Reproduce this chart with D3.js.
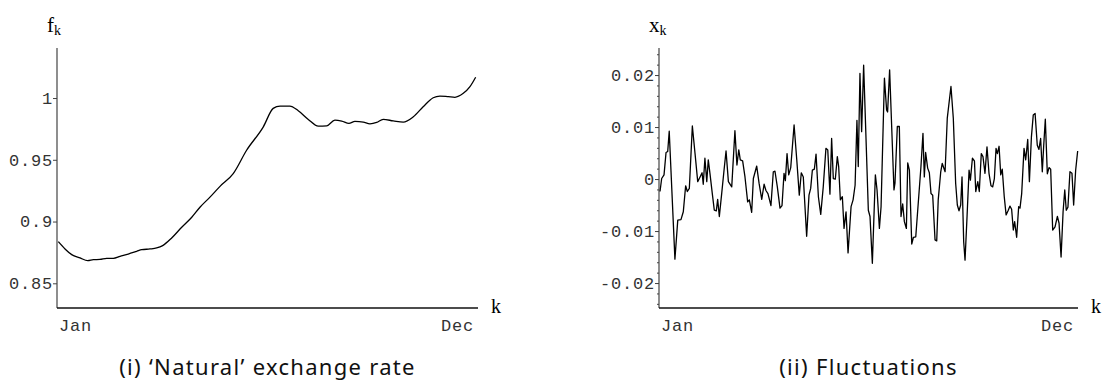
<!DOCTYPE html>
<html>
<head>
<meta charset="utf-8">
<script src="https://cdn.jsdelivr.net/npm/d3@7"></script>
<style>
  html, body { margin: 0; padding: 0; background: #fff; }
  svg { display: block; }
</style>
</head>
<body>
<div id="chart"></div>
<script>
// 'Natural' exchange rate (smooth trend), day index and value
const rateDays = [0.2, 4.2, 8.2, 13.2, 17.8, 21.1, 25.1, 29.1, 33.1, 37.1, 42.0, 47.1, 50.1, 55.0, 59.0, 62.6,
  68.0, 74.0, 80.0, 84.9, 90.9, 96.9, 104.8, 112.8, 122.8, 128.7, 132.8, 138.7, 143.7, 149.7, 155.7, 160.7,
  165.6, 169.7, 174.0, 177.6, 182.6, 186.6, 190.6, 194.5, 200.5, 206.5, 212.5, 218.4, 224.4, 228.4, 233.4,
  237.4, 242.4, 246.4, 249.8]
const rateValues = [0.8837, 0.8778, 0.8732, 0.8705, 0.8683, 0.8691, 0.8693, 0.8702, 0.8702, 0.8718, 0.8737,
  0.8759, 0.8772, 0.8778, 0.8786, 0.8805, 0.8867, 0.8954, 0.9035, 0.9116, 0.9198, 0.9285, 0.9388, 0.9577,
  0.9767, 0.9916, 0.9935, 0.9935, 0.9897, 0.9827, 0.9772, 0.9775, 0.9821, 0.9813, 0.9794, 0.9811, 0.9805,
  0.9791, 0.9802, 0.9827, 0.9815, 0.9805, 0.9848, 0.9929, 1.0002, 1.0016, 1.0011, 1.0006, 1.0038, 1.0092,
  1.0168]

// fluctuations around the trend
const flucDays = [0.6, 1.6, 3.0, 4.2, 5.2, 6.1, 9.5, 11.2, 13.1, 14.5, 15.9, 16.9, 18.1, 19.9, 21.5, 23.1,
  24.5, 25.7, 26.4, 27.4, 28.5, 29.4, 30.4, 31.8, 33.0, 34.2, 35.0, 36.0, 37.4, 38.8, 40.0, 41.4, 43.4, 45.3,
  46.5, 47.6, 48.5, 49.9, 51.3, 52.9, 53.9, 55.3, 56.3, 58.3, 59.7, 61.3, 62.7, 63.8, 65.0, 66.8, 68.2, 69.2,
  70.6, 72.2, 73.4, 74.6, 75.4, 76.4, 77.4, 78.6, 80.6, 82.2, 83.7, 84.9, 86.1, 88.1, 89.5, 90.5, 91.5, 92.7,
  93.7, 95.1, 96.5, 98.0, 99.6, 100.7, 102.0, 103.0, 104.0, 105.2, 106.4, 107.2, 108.2, 109.4, 110.4, 111.6,
  112.8, 114.6, 115.8, 117.0, 118.1, 118.9, 119.9, 120.9, 122.1, 124.9, 125.9, 127.3, 129.1, 130.1, 131.5,
  132.5, 134.5, 135.8, 136.4, 137.6, 140.2, 140.8, 142.2, 143.4, 144.4, 145.4, 146.4, 147.6, 148.4, 149.4,
  150.8, 151.8, 153.2, 156.3, 157.5, 158.3, 159.1, 160.3, 161.3, 162.3, 163.3, 164.7, 165.7, 166.6, 168.1,
  169.0, 170.7, 172.0, 174.2, 175.6, 177.0, 178.0, 179.0, 180.0, 180.8, 181.8, 182.6, 183.8, 185.0, 185.8,
  187.0, 188.2, 189.0, 190.2, 191.1, 192.3, 193.3, 194.5, 195.7, 196.9, 198.1, 199.1, 200.1, 201.1, 201.9,
  202.9, 203.9, 204.8, 206.0, 207.1, 208.4, 209.4, 210.4, 211.4, 212.2, 213.4, 214.6, 215.4, 216.4, 217.8,
  218.8, 220.0, 221.0, 222.2, 223.3, 224.4, 225.7, 226.7, 227.7, 228.7, 229.5, 230.5, 231.7, 232.7, 233.7,
  234.9, 236.3, 237.7, 238.7, 239.9, 241.1, 242.1, 243.0, 244.0, 245.2, 246.4, 247.4, 248.6, 249.8]
const flucValues = [-0.0024, 0.0001, 0.0008, 0.0051, 0.0053, 0.0092, -0.0154, -0.0079, -0.0078, -0.0063,
  -0.0013, -0.0024, -0.0018, 0.0102, 0.0049, -0.0005, 0.0004, 0.0012, -0.001, 0.004, -0.0005, 0.0037, 0.0011,
  -0.0028, -0.006, -0.0061, -0.0039, -0.0072, -0.0028, 0.0017, 0.0054, -0.0005, -0.0015, 0.0093, 0.0027,
  0.0056, 0.0037, 0.0035, 0.0004, -0.0044, -0.004, -0.0064, 0.0001, 0.0025, -0.0008, -0.0039, -0.001,
  -0.0022, -0.0028, -0.0051, 0.0014, 0.0015, -0.0015, -0.0056, -0.0051, 0.0011, -0.0003, 0.0049, 0.0008,
  0.0022, 0.0104, 0.0037, -0.0031, 0.0012, 0.0004, -0.011, -0.0031, -0.0018, 0.0017, 0.0019, 0.0048, -0.0034,
  -0.0068, -0.0015, 0.0059, 0.0056, -0.0029, 0.0078, 0.0001, 0.0, 0.0043, 0.0024, -0.004, -0.0034, -0.0095,
  -0.0063, -0.0142, -0.0053, -0.004, -0.0012, 0.0113, 0.0024, 0.0203, 0.0091, 0.0219, -0.006, -0.0072,
  -0.0162, 0.0008, -0.0021, -0.0095, -0.0053, 0.0194, 0.0133, 0.0129, 0.021, -0.0021, -0.0008, 0.0101,
  0.0101, -0.0072, -0.0048, -0.0082, -0.0095, 0.0031, 0.0017, -0.0125, -0.0112, -0.0111, 0.0024, 0.0088,
  0.0004, 0.0051, 0.0021, 0.0012, -0.0028, -0.0031, -0.0117, -0.0119, -0.004, 0.0014, 0.003, 0.0014, 0.0117,
  0.0178, 0.0117, -0.0008, -0.005, -0.0061, -0.005, 0.0004, -0.0121, -0.0156, -0.0072, 0.0017, -0.0002,
  0.004, 0.0035, -0.0024, -0.0005, -0.0024, 0.0049, 0.0043, 0.0011, 0.0062, 0.0011, -0.0013, -0.0015,
  0.0001, 0.0059, 0.0049, 0.0063, 0.0008, 0.0019, -0.0034, -0.0069, -0.006, -0.0052, -0.0058, -0.0098,
  -0.0082, -0.0112, -0.0053, -0.0056, -0.0028, 0.0059, 0.0037, 0.0076, -0.0005, 0.0081, 0.0123, 0.0126,
  0.0065, 0.0057, 0.0078, 0.0014, 0.0062, 0.0115, 0.001, 0.0022, 0.0019, -0.0098, -0.0092, -0.0072, -0.0085,
  -0.015, -0.0063, -0.0021, -0.006, -0.0054, 0.0014, 0.0011, -0.005, 0.0017, 0.0054]

const monthLabels = ['Jan', 'Dec']
const rateTicks = [0.85, 0.9, 0.95, 1]
const rateTickLabels = ['0.85', '0.9', '0.95', '1']
const flucTicks = [-0.02, -0.01, 0, 0.01, 0.02]
const flucTickLabels = ['-0.02', '-0.01', '0', '0.01', '0.02']
const flucMinorTicks = d3.range(-24, 25, 2).map(v => v / 1000)

;(() => {
  const width = 1106
  const height = 383
  const top = 48
  const bottom = 308
  const monoFont = "'Liberation Mono', 'Courier New', monospace"
  const serifFont = "'Liberation Serif', 'Times New Roman', serif"
  const sansFont = "'Noto Sans', 'DejaVu Sans', sans-serif"

  const svg = d3.select('#chart')
    .append('svg')
    .attr('width', width)
    .attr('height', height)

  const drawPanel = (p) => {
    const x = d3.scaleLinear().domain(p.xDomain).range([p.left, p.right])
    const y = d3.scaleLinear().domain(p.yDomain).range([bottom, top])
    const g = svg.append('g')

    // minor ticks (only on the fluctuation panel)
    if (p.minor) {
      g.append('g')
        .attr('transform', `translate(${p.left},0)`)
        .call(d3.axisLeft(y).tickValues(p.minor).tickSize(2).tickFormat('').tickSizeOuter(0))
        .call(a => a.select('.domain').remove())
        .selectAll('line').attr('stroke', '#444')
    }

    // y axis
    const yAxis = g.append('g')
      .attr('transform', `translate(${p.left},0)`)
      .call(d3.axisLeft(y)
        .tickValues(p.ticks)
        .tickSize(4)
        .tickSizeOuter(0)
        .tickPadding(0)
        .tickFormat((d, i) => p.tickLabels[i]))
    yAxis.select('.domain').remove()
    yAxis.selectAll('line').attr('stroke', '#444')
    yAxis.selectAll('text')
      .attr('font-family', monoFont)
      .attr('font-size', 17)
      .attr('letter-spacing', 0.8)
      .attr('fill', '#333')

    g.append('line')
      .attr('x1', p.left).attr('x2', p.left)
      .attr('y1', top).attr('y2', bottom)
      .attr('stroke', '#444').attr('stroke-width', 1.2)
    g.append('line')
      .attr('x1', p.left).attr('x2', p.right)
      .attr('y1', bottom).attr('y2', bottom)
      .attr('stroke', '#111').attr('stroke-width', 1.4)

    // month labels under the k axis
    g.selectAll('.month')
      .data(monthLabels)
      .enter()
      .append('text')
      .attr('class', 'month')
      .attr('x', (d, i) => i === 0 ? p.left + 2 : p.right - 4)
      .attr('y', bottom + 23)
      .attr('text-anchor', (d, i) => i === 0 ? 'start' : 'end')
      .attr('font-family', monoFont)
      .attr('font-size', 17)
      .attr('letter-spacing', 0.8)
      .attr('fill', '#333')
      .text(d => d)

    g.append('text')
      .attr('x', p.right + 13)
      .attr('y', bottom + 5)
      .attr('font-family', serifFont)
      .attr('font-size', 20)
      .text('k')

    const yl = g.append('text')
      .attr('x', p.left - 10)
      .attr('y', 32)
      .attr('font-family', serifFont)
      .attr('font-size', 21)
    yl.append('tspan').text(p.yName)
    yl.append('tspan').attr('font-size', 14).attr('dy', 3).text('k')

    const line = d3.line()
      .x(d => x(d[0]))
      .y(d => y(d[1]))
      .curve(p.curve)
    g.append('path')
      .datum(d3.zip(p.days, p.values))
      .attr('d', line)
      .attr('fill', 'none')
      .attr('stroke', '#000')
      .attr('stroke-width', p.lineWidth)
      .attr('stroke-linejoin', 'round')

    g.append('text')
      .attr('x', (p.left + p.right) / 2)
      .attr('y', 375)
      .attr('text-anchor', 'middle')
      .attr('font-family', sansFont)
      .attr('font-size', 22)
      .attr('letter-spacing', 1.3)
      .attr('fill', '#111')
      .text(p.caption)
  }

  drawPanel({
    left: 57, right: 478,
    xDomain: [-0.6, 251.2], yDomain: [0.83, 1.0405],
    ticks: rateTicks, tickLabels: rateTickLabels,
    days: rateDays, values: rateValues,
    curve: d3.curveMonotoneX, lineWidth: 1.3,
    yName: 'f', caption: '(i) \u2018Natural\u2019 exchange rate'
  })

  drawPanel({
    left: 659, right: 1078,
    xDomain: [0, 250], yDomain: [-0.0248, 0.0252],
    ticks: flucTicks, tickLabels: flucTickLabels, minor: flucMinorTicks,
    days: flucDays, values: flucValues,
    curve: d3.curveLinear, lineWidth: 1.3,
    yName: 'x', caption: '(ii) Fluctuations'
  })
})()
</script>
</body>
</html>
